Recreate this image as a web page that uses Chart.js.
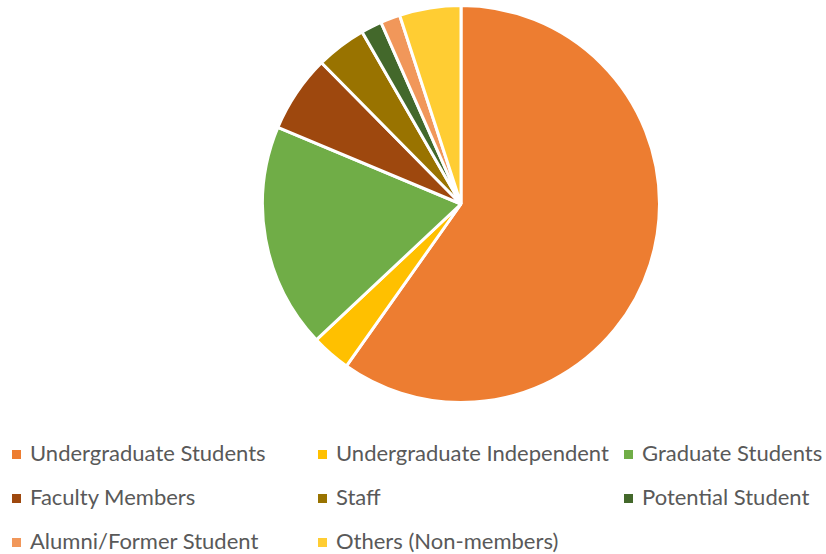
<!DOCTYPE html>
<html lang="en">
<head>
    <meta charset="UTF-8">
    <title>Membership Breakdown</title>
    <script src="https://cdn.jsdelivr.net/npm/chart.js"></script>
    <style>
        body {
            margin: 0;
            width: 826px;
            height: 554px;
            background: #ffffff;
            font-family: Lato, "Open Sans", sans-serif;
            position: relative;
            overflow: hidden;
        }
        .pie-box {
            position: absolute;
            left: 261px;
            top: 4px;
            width: 400px;
            height: 400px;
        }
        .legend {
            position: absolute;
            left: 0;
            top: 431px;
            width: 826px;
        }
        .legend-item {
            position: absolute;
            height: 44px;
            line-height: 44px;
            font-size: 22px;
            color: #595959;
            white-space: nowrap;
        }
        .legend-item span {
            display: inline-block;
            width: 9px;
            height: 9px;
            margin-right: 9px;
            vertical-align: middle;
            position: relative;
            top: -1px;
        }
    </style>
</head>
<body>
    <div class="pie-box"><canvas id="pieChart"></canvas></div>
    <div class="legend" id="legend"></div>

    <script>
        const categories = [
            "Undergraduate Students",
            "Undergraduate Independent",
            "Graduate Students",
            "Faculty Members",
            "Staff",
            "Potential Student",
            "Alumni/Former Student",
            "Others (Non-members)"
        ];
        const shares = [59.8, 3.2, 18.3, 6.3, 4.1, 1.7, 1.6, 5.0];
        const colors = ["#ED7D31", "#FFC000", "#70AD47", "#9E480E", "#997300", "#43682B", "#F1975A", "#FFCD33"];

        // legend grid: 3 columns, 3 rows (Excel style)
        const colX = [12, 318, 624];
        const legendBox = document.getElementById("legend");
        categories.forEach(function (name, i) {
            const item = document.createElement("div");
            item.className = "legend-item";
            item.style.left = colX[i % 3] + "px";
            item.style.top = (Math.floor(i / 3) * 44) + "px";
            const box = document.createElement("span");
            box.style.background = colors[i];
            item.appendChild(box);
            item.appendChild(document.createTextNode(name));
            legendBox.appendChild(item);
        });

        new Chart(document.getElementById("pieChart"), {
            type: "pie",
            data: {
                labels: categories,
                datasets: [{
                    data: shares,
                    backgroundColor: colors,
                    borderColor: "#ffffff",
                    borderWidth: 3
                }]
            },
            options: {
                responsive: true,
                maintainAspectRatio: false,
                animation: false,
                layout: { padding: 0 },
                plugins: {
                    legend: { display: false },
                    tooltip: { enabled: false }
                }
            }
        });
    </script>
</body>
</html>
